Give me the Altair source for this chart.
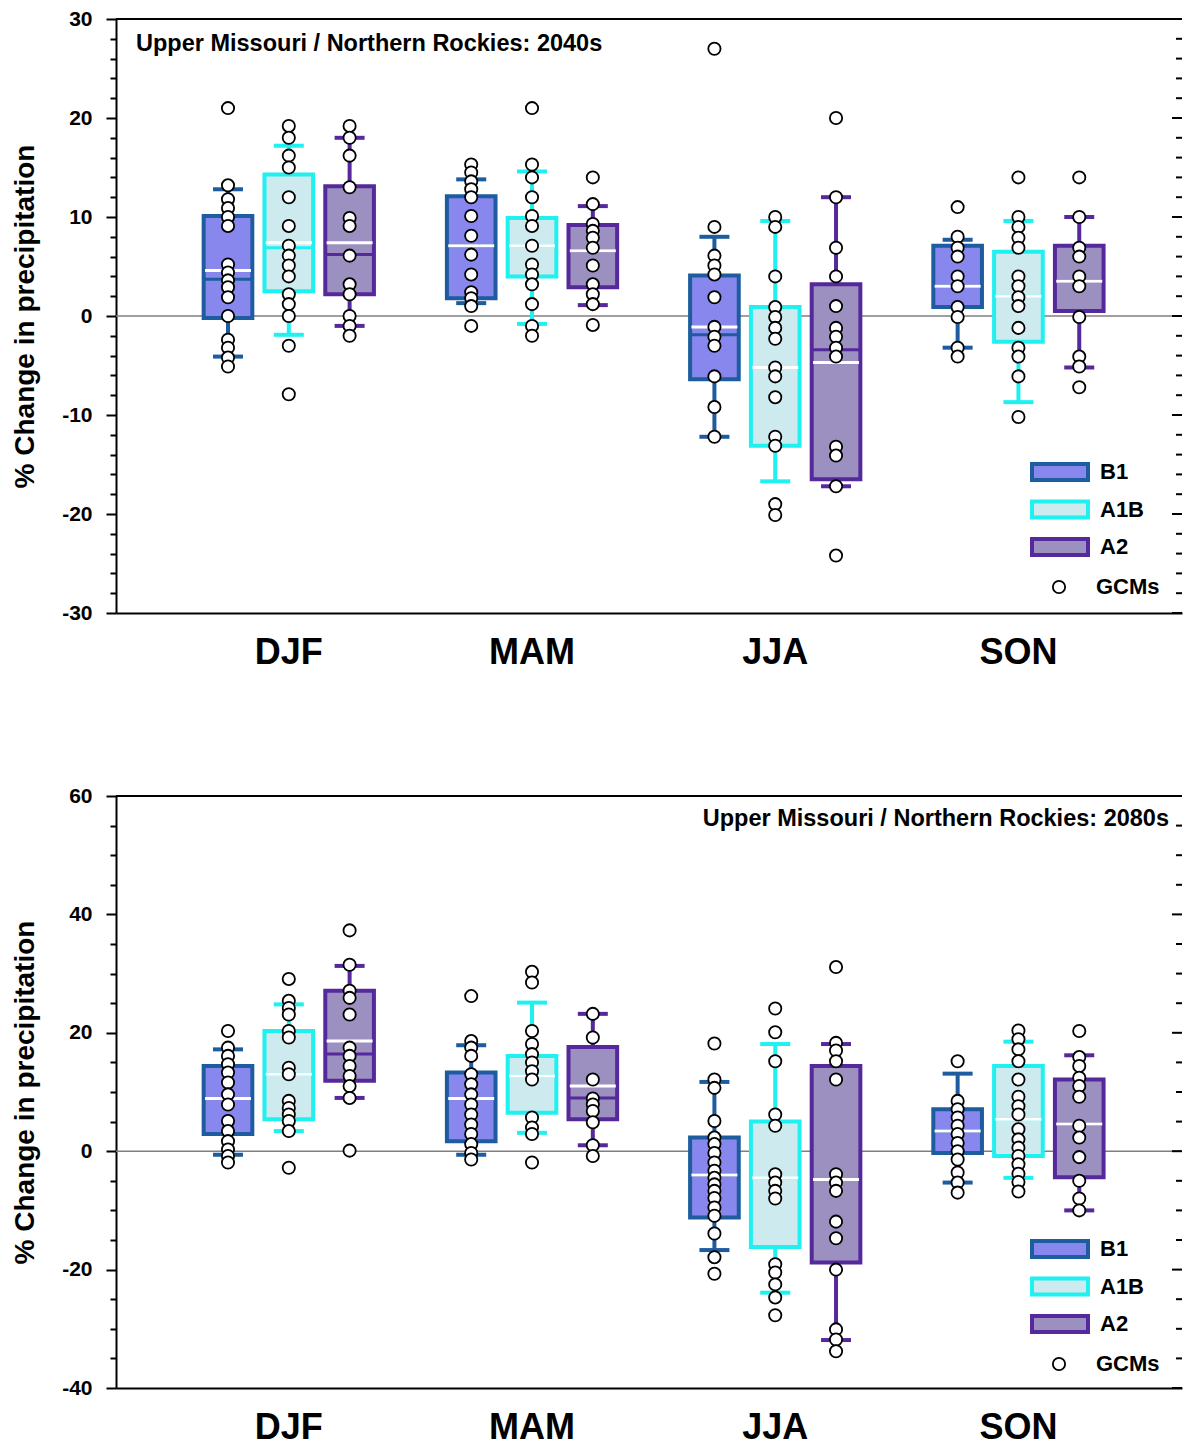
import altair as alt
import pandas as pd

FONT = "Liberation Sans"

SEASONS = ["DJF", "MAM", "JJA", "SON"]
SCENARIOS = ["B1", "A1B", "A2"]
STROKES = ["#1d5c9f", "#1ff0f0", "#55299b"]
FILLS = ["#8787ee", "#cdebef", "#9b90bf"]

# ---------------- 2040s (order: DJF B1, A1B, A2, MAM ..., JJA ..., SON ...)
TOP_TITLE = "Upper Missouri / Northern Rockies: 2040s"
TOP_Q3 = [10.1, 14.3, 13.1, 12.1, 9.9, 9.2, 4.1, 0.9, 3.2, 7.1, 6.5, 7.1]
TOP_Q1 = [-0.2, 2.5, 2.2, 1.8, 4.0, 2.9, -6.4, -13.1, -16.5, 0.9, -2.6, 0.5]
TOP_MEAN = [4.6, 7.4, 7.4, 7.1, 7.1, 6.6, -1.1, -5.2, -4.7, 3.0, 2.0, 3.5]
TOP_MEDIAN = [3.7, 6.9, 6.2, 7.1, 7.1, 6.6, -1.9, -5.2, -3.4, 3.0, 2.0, 3.5]
TOP_HI = [12.8, 17.2, 18.0, 13.8, 14.6, 11.1, 8.0, 9.6, 12.0, 7.7, 9.6, 10.0]
TOP_LO = [-4.1, -1.9, -1.0, 1.3, -0.8, 1.1, -12.2, -16.7, -17.2, -3.2, -8.7, -5.2]
TOP_GCMS = [
    [21.0, 13.2, 11.8, 10.9, 10.0, 9.1, 5.2, 4.4, 3.6, 2.9, 1.9, 0.0, -2.4, -3.2, -4.2, -5.1],
    [19.2, 18.0, 16.2, 15.0, 12.0, 9.1, 7.1, 6.1, 5.1, 4.0, 2.2, 1.2, 0.0, -3.0, -7.9],
    [19.2, 18.0, 16.2, 13.0, 9.9, 9.1, 6.1, 3.2, 2.2, 0.0, -1.0, -2.0],
    [15.3, 14.5, 13.6, 12.8, 12.0, 10.1, 8.1, 6.2, 4.2, 2.4, 1.8, 1.0, -1.0],
    [21.0, 15.3, 14.0, 12.0, 10.1, 9.1, 7.1, 5.2, 4.2, 3.2, 1.2, -1.0, -2.0],
    [14.0, 11.3, 9.3, 8.6, 7.9, 6.9, 5.1, 3.2, 2.2, 1.2, -0.9],
    [27.0, 9.0, 6.1, 5.1, 4.2, 1.9, -1.1, -2.1, -3.0, -6.1, -9.2, -12.2],
    [10.0, 9.0, 4.0, 0.9, -0.1, -1.2, -2.3, -5.2, -6.1, -8.2, -12.2, -13.1, -19.0, -20.1],
    [20.0, 12.0, 6.9, 4.0, 1.0, -1.2, -2.1, -3.2, -4.1, -13.2, -14.1, -17.2, -24.2],
    [11.0, 8.0, 6.9, 6.0, 4.0, 3.0, 0.9, -0.1, -3.2, -4.1],
    [14.0, 10.0, 9.0, 7.9, 6.9, 4.0, 3.0, 1.9, 1.0, -1.2, -3.2, -4.1, -6.1, -10.2],
    [14.0, 10.0, 6.9, 6.0, 4.0, 3.0, -0.1, -4.1, -5.1, -7.2],
]
TOP_TICKS_MAJOR = [-30, -20, -10, 0, 10, 20, 30]
TOP_TICKS_MINOR = [-28, -26, -24, -22, -18, -16, -14, -12, -8, -6, -4, -2,
                   2, 4, 6, 8, 12, 14, 16, 18, 22, 24, 26, 28]

# ---------------- 2080s
BOT_TITLE = "Upper Missouri / Northern Rockies: 2080s"
BOT_Q3 = [14.4, 20.3, 27.1, 13.3, 16.1, 17.6, 2.3, 5.0, 14.4, 7.1, 14.4, 12.1]
BOT_Q1 = [2.9, 5.4, 11.9, 1.7, 6.5, 5.4, -11.2, -16.2, -18.8, -0.3, -0.8, -4.4]
BOT_MEAN = [8.9, 13.0, 18.6, 8.9, 12.7, 11.0, -4.0, -4.5, -4.8, 3.4, 5.4, 4.6]
BOT_MEDIAN = [8.9, 13.0, 16.4, 8.9, 12.7, 9.0, -4.0, -4.5, -4.8, 3.4, 5.4, 4.6]
BOT_HI = [17.2, 24.8, 31.3, 17.9, 25.1, 23.2, 11.7, 18.1, 18.1, 13.1, 18.5, 16.2]
BOT_LO = [-0.6, 3.4, 9.0, -0.6, 3.1, 1.0, -16.7, -23.9, -31.9, -5.3, -4.5, -10.0]
BOT_GCMS = [
    [20.3, 17.5, 16.1, 14.7, 13.3, 11.6, 9.6, 7.9, 5.1, 3.4, 1.7, 0.3, -0.8, -1.9],
    [29.1, 25.4, 24.2, 23.1, 20.3, 19.2, 14.1, 13.0, 8.5, 7.3, 6.2, 5.1, 3.4, -2.8],
    [37.3, 31.5, 27.1, 25.9, 23.1, 17.5, 16.1, 14.4, 12.7, 11.0, 9.0, 0.1],
    [26.2, 18.6, 17.5, 16.1, 13.0, 11.3, 9.6, 7.9, 6.2, 4.5, 2.9, 1.2, -0.3, -1.4],
    [30.3, 28.5, 20.3, 18.1, 16.4, 15.0, 13.5, 12.1, 5.7, 4.0, 2.9, -1.9],
    [23.2, 19.2, 12.1, 8.9, 7.9, 6.8, 4.9, 1.0, -0.8],
    [18.2, 12.1, 10.7, 5.1, 2.3, 1.2, -0.3, -1.9, -3.3, -4.5, -5.6, -6.7, -7.9, -9.5, -10.9, -13.9, -17.9, -20.7],
    [24.1, 20.1, 15.2, 6.2, 4.3, -3.9, -5.3, -6.7, -8.0, -19.1, -20.5, -22.5, -24.7, -27.7],
    [31.1, 18.3, 17.0, 15.2, 12.1, -3.9, -5.3, -6.7, -11.9, -14.7, -20.0, -30.1, -31.8, -33.8],
    [15.2, 8.5, 7.1, 5.7, 4.3, 2.9, 1.4, 0.0, -1.4, -3.6, -5.3, -7.0],
    [20.4, 18.9, 17.2, 15.2, 12.1, 9.2, 7.6, 6.2, 3.7, 2.0, 0.6, -0.8, -2.2, -3.8, -5.2, -6.8],
    [20.3, 15.9, 14.4, 12.4, 11.0, 9.2, 4.3, 2.3, -1.0, -5.0, -8.0, -10.0],
]
BOT_TICKS_MAJOR = [-40, -20, 0, 20, 40, 60]
BOT_TICKS_MINOR = [-35, -30, -25, -15, -10, -5, 5, 10, 15, 25, 30, 35, 45, 50, 55]

W = 1066


def box_table(q1, q3, med, mean, lo, hi):
    rows = []
    k = 0
    for s in SEASONS:
        for sc in SCENARIOS:
            rows.append({"season": s, "scenario": sc, "q1": q1[k], "q3": q3[k],
                         "median": med[k], "mean": mean[k], "lo": lo[k], "hi": hi[k]})
            k += 1
    return pd.DataFrame(rows)


def point_table(pts):
    rows = []
    k = 0
    for s in SEASONS:
        for sc in SCENARIOS:
            for v in pts[k]:
                rows.append({"season": s, "scenario": sc, "value": v, "src": "GCMs"})
            k += 1
    return pd.DataFrame(rows)


def panel(boxes, points, title, title_left, domain, major, minor, major_step, height):
    ticks = sorted(major + minor)
    yaxis = alt.Axis(
        values=ticks,
        labelExpr=f"datum.value % {major_step} === 0 ? '' + datum.value : ''",
        tickSize={"condition": {"test": f"datum.value % {major_step} === 0", "value": 10}, "value": 6},
        tickWidth=2, tickColor="black", domainColor="black", domainWidth=2,
        labelFont=FONT, labelFontSize=21, labelFontWeight="bold", labelColor="black",
        labelPadding=14, grid=False,
        title="% Change in precipitation", titleFont=FONT, titleFontSize=28,
        titleFontWeight="bold", titleColor="black", titlePadding=22,
    )
    yscale = alt.Scale(domain=domain, nice=False, zero=False)

    def Y(field):
        return alt.Y(field, scale=yscale, axis=yaxis)

    X = alt.X("season:N", sort=SEASONS,
              scale=alt.Scale(domain=SEASONS, paddingInner=0.25, paddingOuter=0.3165, align=0.53),
              axis=alt.Axis(title=None, labelFont=FONT, labelFontSize=36, labelFontWeight="bold",
                            labelColor="black", labelPadding=22, tickSize=0, labelAngle=0,
                            domainColor="black", domainWidth=2, grid=False))
    XO = alt.XOffset("scenario:N", sort=SCENARIOS,
                     scale=alt.Scale(domain=SCENARIOS, paddingInner=0.2, paddingOuter=0.1))
    # colour scale for whiskers / caps / medians (domain taken from the data, no legend)
    col = alt.Color("scenario:N", sort=SCENARIOS, scale=alt.Scale(range=STROKES), legend=None)

    leg = alt.Legend(orient="none", legendX=933, legendY=442, title=None,
                     symbolType="M-3.5,-1H3.5V1H-3.5Z", symbolSize=256, symbolStrokeWidth=4,
                     labelFont=FONT, labelFontSize=22, labelFontWeight="bold", labelColor="black",
                     labelOffset=29, rowPadding=5.5, padding=0)
    leg2 = alt.Legend(orient="none", legendX=932, legendY=557, title=None,
                      symbolType="circle", symbolSize=150, symbolStrokeWidth=1.8,
                      labelFont=FONT, labelFontSize=22, labelFontWeight="bold", labelColor="black",
                      labelOffset=26, padding=0)

    zero = alt.Chart(pd.DataFrame({"z": [0]})).mark_rule(color="#7f7f7f", strokeWidth=1.5).encode(
        y=Y("z:Q"))
    whisk = alt.Chart(boxes).mark_rule(strokeWidth=4).encode(
        x=X, xOffset=XO, y=Y("lo:Q"), y2="hi:Q", color=col)
    bars = alt.Chart(boxes).mark_bar(strokeWidth=4, opacity=1).encode(
        x=X, xOffset=XO, y=Y("q1:Q"), y2="q3:Q",
        fill=alt.Fill("scenario:N", scale=alt.Scale(domain=SCENARIOS, range=FILLS), legend=leg),
        stroke=alt.Stroke("scenario:N", scale=alt.Scale(domain=SCENARIOS, range=STROKES), legend=leg))
    med = alt.Chart(boxes).mark_tick(orient="horizontal", size=46, thickness=3, opacity=1).encode(
        x=X, xOffset=XO, y=Y("median:Q"), color=col)
    mean = alt.Chart(boxes).mark_tick(orient="horizontal", size=46, thickness=3, color="white",
                                      opacity=1).encode(x=X, xOffset=XO, y=Y("mean:Q"))
    cap_hi = alt.Chart(boxes).mark_tick(orient="horizontal", size=30, thickness=4, opacity=1).encode(
        x=X, xOffset=XO, y=Y("hi:Q"), color=col)
    cap_lo = alt.Chart(boxes).mark_tick(orient="horizontal", size=30, thickness=4, opacity=1).encode(
        x=X, xOffset=XO, y=Y("lo:Q"), color=col)
    pts = alt.Chart(points).mark_point(filled=True, fill="white", stroke="black", strokeWidth=1.8,
                                       size=150, opacity=1).encode(
        x=X, xOffset=XO, y=Y("value:Q"),
        shape=alt.Shape("src:N", scale=alt.Scale(domain=["GCMs"], range=["circle"]), legend=leg2))
    border = alt.Chart(pd.DataFrame({"b": [0]})).mark_rule(color="black", strokeWidth=2).encode(
        x=alt.value(0), x2=alt.value(W), y=alt.value(0))
    rt_major = alt.Chart(pd.DataFrame({"t": major})).mark_rule(color="black", strokeWidth=2).encode(
        y=Y("t:Q"), x=alt.value(W - 10), x2=alt.value(W))
    rt_minor = alt.Chart(pd.DataFrame({"t": minor})).mark_rule(color="black", strokeWidth=2).encode(
        y=Y("t:Q"), x=alt.value(W - 6), x2=alt.value(W))
    if title_left:
        txt = alt.Chart(pd.DataFrame({"t": [title]})).mark_text(
            align="left", baseline="middle", font=FONT, fontSize=23.5, fontWeight="bold",
            color="black").encode(text="t:N", x=alt.value(20), y=alt.value(25))
    else:
        txt = alt.Chart(pd.DataFrame({"t": [title]})).mark_text(
            align="right", baseline="middle", font=FONT, fontSize=23.5, fontWeight="bold",
            color="black").encode(text="t:N", x=alt.value(W - 13), y=alt.value(23))

    return alt.layer(zero, whisk, bars, med, mean, cap_hi, cap_lo, pts, border,
                     rt_major, rt_minor, txt).properties(width=W, height=height)


top = panel(box_table(TOP_Q1, TOP_Q3, TOP_MEDIAN, TOP_MEAN, TOP_LO, TOP_HI), point_table(TOP_GCMS),
            TOP_TITLE, True, [-30, 30], TOP_TICKS_MAJOR, TOP_TICKS_MINOR, 10, 594)
bottom = panel(box_table(BOT_Q1, BOT_Q3, BOT_MEDIAN, BOT_MEAN, BOT_LO, BOT_HI), point_table(BOT_GCMS),
               BOT_TITLE, False, [-40, 60], BOT_TICKS_MAJOR, BOT_TICKS_MINOR, 20, 592)

chart = alt.vconcat(top, bottom, spacing=115).resolve_scale(
    x="independent", y="independent", color="independent", fill="independent",
    stroke="independent", shape="independent"
).resolve_legend(fill="independent", stroke="independent", shape="independent").properties(
    padding={"left": 11, "top": 8, "right": 0, "bottom": 0}, background="white"
).configure_view(strokeWidth=0)

chart.save("out.html", embed_options={"renderer": "svg", "actions": False})
